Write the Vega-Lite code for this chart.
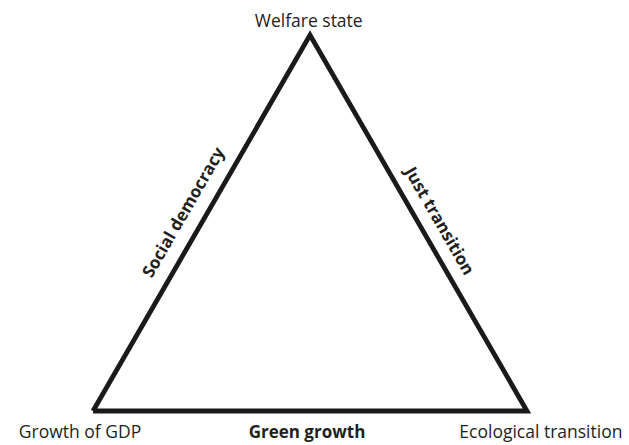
{
  "$schema": "https://vega.github.io/schema/vega-lite/v6.json",
  "width": 629,
  "height": 445,
  "autosize": {"type": "fit", "contains": "padding"},
  "padding": 0,
  "background": "white",
  "config": {"view": {"stroke": null}},
  "datasets": {
    "triangle": [
      {"order": 1, "x": 0, "y": 0},
      {"order": 2, "x": 0.5, "y": 0.866},
      {"order": 3, "x": 1, "y": 0},
      {"order": 4, "x": 0, "y": 0}
    ],
    "labels": [
      {"label": "Welfare state", "x": 0.497, "y": 0.885, "kind": "vertex"},
      {"label": "Growth of GDP", "x": -0.03, "y": -0.062, "kind": "vertex"},
      {"label": "Ecological transition", "x": 1.032, "y": -0.062, "kind": "vertex"},
      {"label": "Green growth", "x": 0.493, "y": -0.062, "kind": "bottom"},
      {"label": "Social democracy", "x": 0.21, "y": 0.457, "kind": "left"},
      {"label": "Just transition", "x": 0.797, "y": 0.437, "kind": "right"}
    ]
  },
  "encoding": {
    "x": {"field": "x", "type": "quantitative", "scale": {"domain": [-0.2143, 1.235], "nice": false, "zero": false}, "axis": null},
    "y": {"field": "y", "type": "quantitative", "scale": {"domain": [-0.0783, 0.947], "nice": false, "zero": false}, "axis": null}
  },
  "layer": [
    {
      "data": {"name": "triangle"},
      "mark": {"type": "line", "color": "#1a1a1a", "strokeWidth": 4.8, "strokeJoin": "miter", "strokeMiterLimit": 10, "clip": false},
      "encoding": {"order": {"field": "order", "type": "quantitative"}}
    },
    {
      "data": {"name": "labels"},
      "transform": [{"filter": "datum.kind === 'vertex'"}],
      "mark": {"type": "text", "font": "Open Sans", "fontSize": 17.5, "color": "#231f20", "baseline": "alphabetic", "align": "center"},
      "encoding": {"text": {"field": "label"}}
    },
    {
      "data": {"name": "labels"},
      "transform": [{"filter": "datum.kind === 'bottom'"}],
      "mark": {"type": "text", "font": "Open Sans", "fontSize": 17, "fontWeight": "bold", "color": "#231f20", "baseline": "alphabetic", "align": "center"},
      "encoding": {"text": {"field": "label"}}
    },
    {
      "data": {"name": "labels"},
      "transform": [{"filter": "datum.kind === 'left'"}],
      "mark": {"type": "text", "font": "Open Sans", "fontSize": 17, "fontWeight": "bold", "color": "#231f20", "baseline": "middle", "align": "center", "angle": -60},
      "encoding": {"text": {"field": "label"}}
    },
    {
      "data": {"name": "labels"},
      "transform": [{"filter": "datum.kind === 'right'"}],
      "mark": {"type": "text", "font": "Open Sans", "fontSize": 17, "fontWeight": "bold", "color": "#231f20", "baseline": "middle", "align": "center", "angle": 60},
      "encoding": {"text": {"field": "label"}}
    }
  ]
}
